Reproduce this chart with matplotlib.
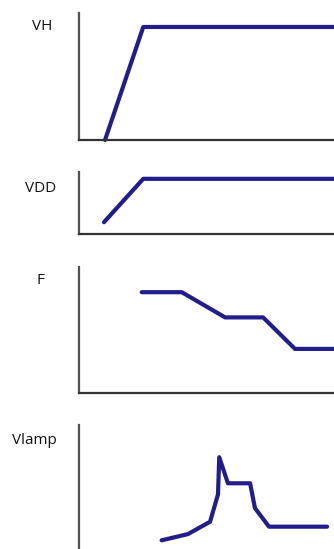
import matplotlib
matplotlib.use("Agg")
import matplotlib.pyplot as plt

# Timing diagram data (time in % of the window, level as fraction of panel height)
vh_t = [10.2, 25.2, 100]
vh_v = [0.0, 0.89, 0.89]

vdd_t = [9.8, 25.2, 100]
vdd_v = [0.19, 0.89, 0.89]

f_t = [24.6, 40.3, 57.3, 72.2, 84.7, 100]
f_v = [0.80, 0.80, 0.60, 0.60, 0.35, 0.35]

vlamp_t = [32.4, 42.7, 51.4, 54.5, 55.0, 58.4, 67.1, 69.0, 74.5, 97.3]
vlamp_v = [0.07, 0.12, 0.22, 0.44, 0.74, 0.53, 0.53, 0.33, 0.18, 0.18]

labels = ["VH", "VDD", "F", "Vlamp"]

W, H = 334, 549
LINE_COLOR = "#221d8c"
AXIS_COLOR = "#505050"

plt.rcParams['font.family'] = ['Open Sans', 'DejaVu Sans']

fig = plt.figure(figsize=(W / 100, H / 100), dpi=100)

# panel boxes in pixels: (top, bottom), label position (x center, y center)
panels = [
    (vh_t, vh_v, 13, 140, (42, 27)),
    (vdd_t, vdd_v, 172, 234, (40.5, 188)),
    (f_t, f_v, 267, 393, (40.5, 281)),
    (vlamp_t, vlamp_v, 425, 549, (34.5, 441)),
]
left_px = 79

for i, (t, v, top, bot, (lx, ly)) in enumerate(panels):
    ax = fig.add_axes([left_px / W, 1 - bot / H, 1 - left_px / W, (bot - top) / H])
    ax.plot(t, v, color=LINE_COLOR, lw=3.0, solid_capstyle='round', clip_on=False)
    ax.set_xlim(0, 100)
    ax.set_ylim(0, 1)
    ax.set_xticks([])
    ax.set_yticks([])
    for s in ["top", "right"]:
        ax.spines[s].set_visible(False)
    ax.spines["left"].set_color(AXIS_COLOR)
    ax.spines["left"].set_linewidth(1.6)
    ax.spines["bottom"].set_color("#333333")
    ax.spines["bottom"].set_linewidth(1.6)
    if i == 3:
        ax.spines["bottom"].set_visible(False)
    ax.patch.set_alpha(0)
    fig.text(lx / W, 1 - ly / H, labels[i], ha='center', va='center',
             fontsize=11, color="#111111")

fig.savefig("out.png", dpi=100)
